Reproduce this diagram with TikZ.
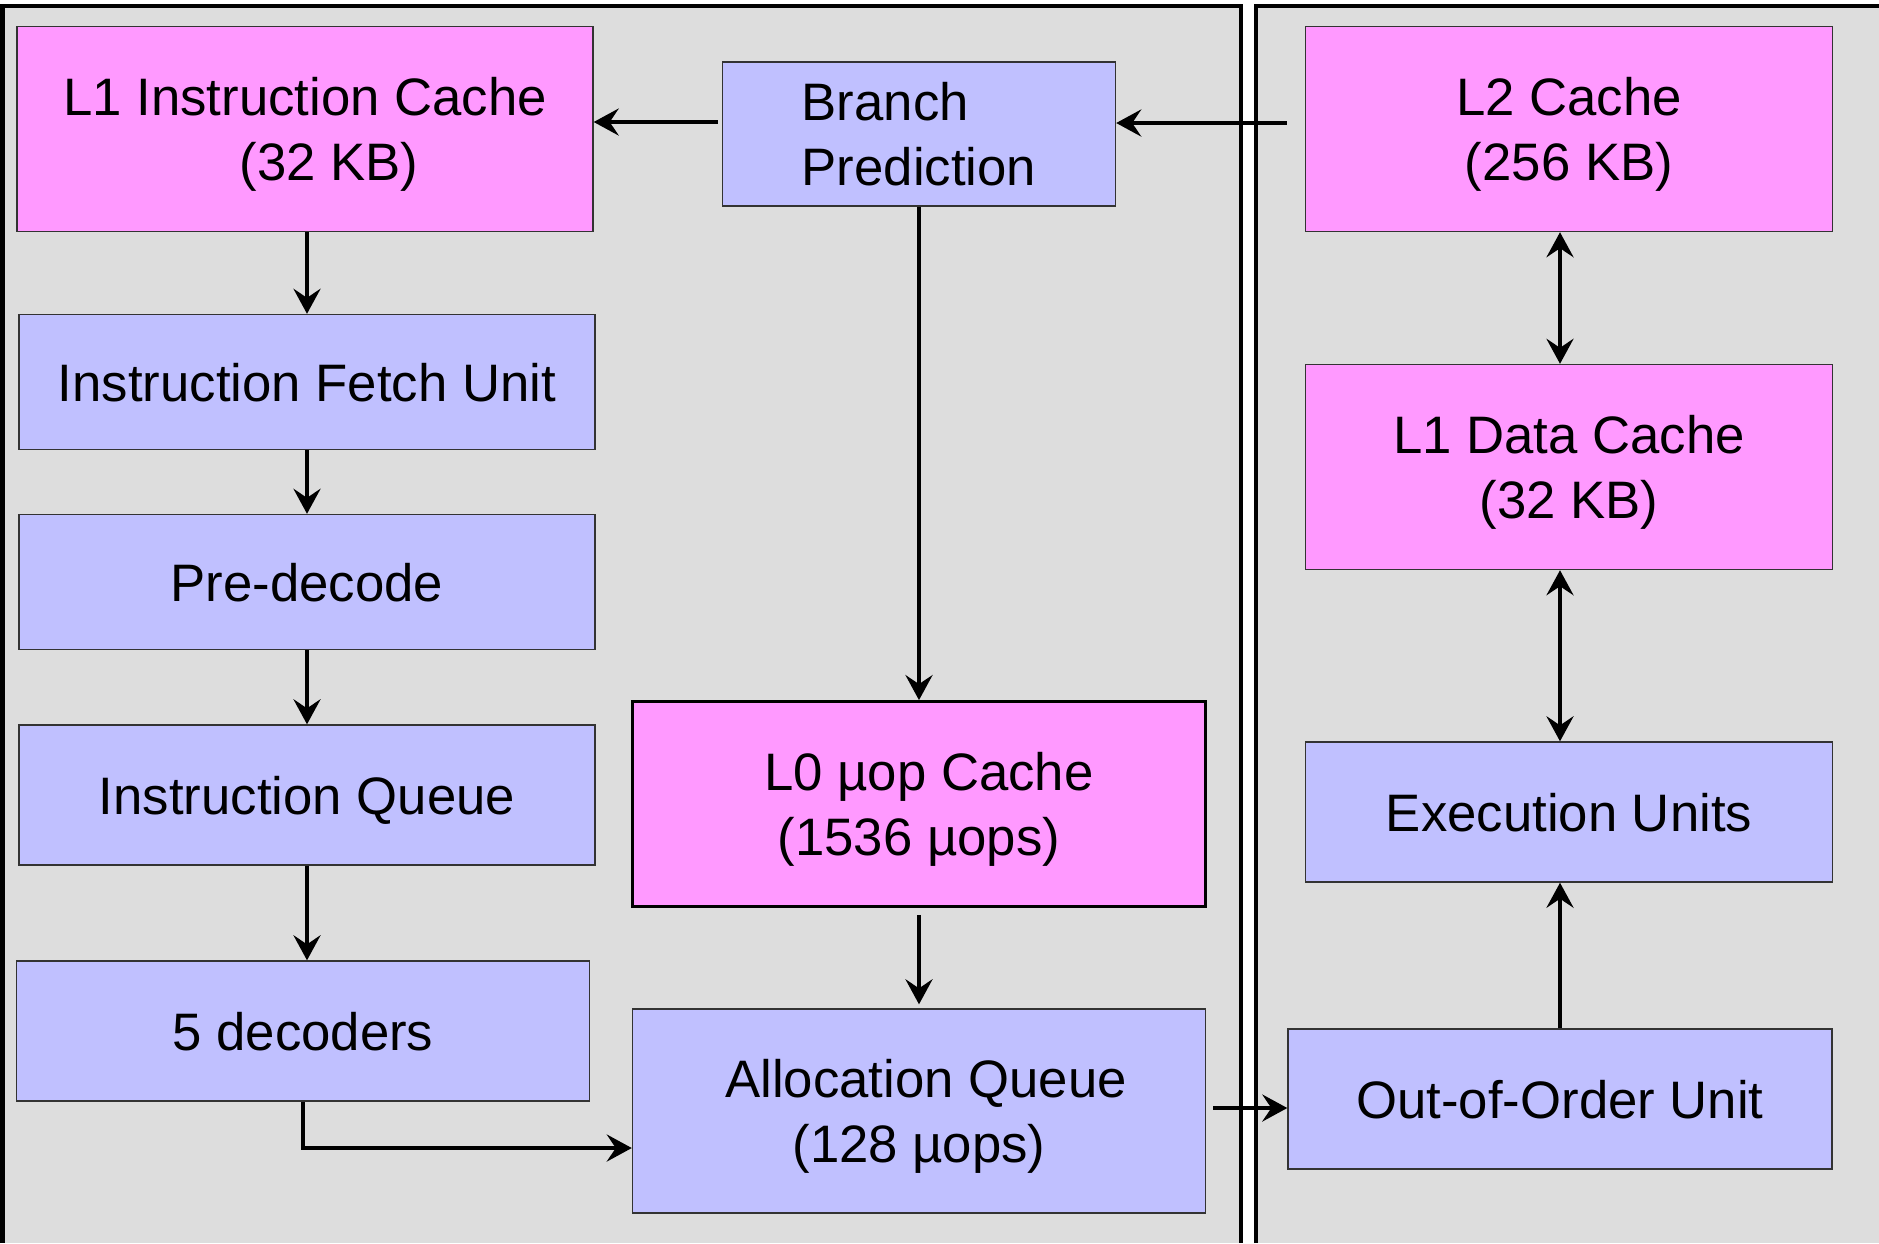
\documentclass[tikz,border=0pt]{standalone}
\usepackage{fontspec}
\setmainfont{Liberation Sans}
\usetikzlibrary{positioning, arrows.meta}

\begin{document}
\begin{tikzpicture}[
    font=\fontsize{15}{18.4}\selectfont,
    box/.style={
    	draw=black!80,
    	line width=0.4pt,
    	inner sep=0pt, align=center, anchor=center,
    	text depth=0pt
    }, pil/.style={
    	-{Stealth[length=2.5mm, width=2.7mm, inset=0.9mm]},
    	line width=1.3pt
    }, dpil/.style={
    	{Stealth[length=2.5mm, width=2.7mm, inset=0.9mm]}-{Stealth[length=2.5mm, width=2.7mm, inset=0.9mm]},
    	line width=1.3pt
    }, panel/.style={
    	line width=1.3pt
    }]
    \definecolor{my-pink}{RGB}{255, 153, 255}
    \definecolor{my-blue}{RGB}{192, 192, 255}
    \definecolor{my-grey}{RGB}{221, 221, 221}

    \useasboundingbox (0,0) rectangle (18.79,-12.43);

    % front end and back end panels
    \fill[my-grey] (0.025,-0.06) rectangle (12.41,-12.43);
    \draw[panel] (0.025,-12.43) |- (12.41,-0.06) -- (12.41,-12.43);
    \fill[my-grey] (12.56,-0.06) rectangle (18.79,-12.43);
    \draw[panel] (12.56,-12.43) |- (18.79,-0.06);

    % front end
    \node[box, fill=my-pink, minimum width=5.76cm, minimum height=2.05cm] (l1icache) at (3.05,-1.29) {L1 Instruction Cache\\\hspace*{0.48cm}(32 KB)};
    \node[box, fill=my-blue, minimum width=5.76cm, minimum height=1.35cm] (fetch) at (3.07,-3.82) {Instruction Fetch Unit};
    \node[box, fill=my-blue, minimum width=5.76cm, minimum height=1.35cm] (predecode) at (3.07,-5.82) {Pre-decode};
    \node[box, fill=my-blue, minimum width=5.76cm, minimum height=1.40cm] (iqueue) at (3.07,-7.95) {Instruction Queue};
    \node[box, fill=my-blue, minimum width=5.73cm, minimum height=1.40cm] (decoders) at (3.03,-10.31) {5 decoders};

    \node[box, fill=my-blue, minimum width=3.93cm, minimum height=1.44cm, align=left] (branch) at (9.19,-1.34) {Branch\\Prediction};
    \node[box, fill=my-pink, draw=black, line width=0.8pt, minimum width=5.73cm, minimum height=2.05cm] (uopcache) at (9.19,-8.04) {\hspace*{0.2cm}L0 µop Cache\\(1536 µops)};
    \node[box, fill=my-blue, minimum width=5.73cm, minimum height=2.04cm] (allocq) at (9.19,-11.11) {\hspace*{0.14cm}Allocation Queue\\(128 µops)};

    % back end
    \node[box, fill=my-pink, minimum width=5.27cm, minimum height=2.05cm] (l2cache) at (15.69,-1.29) {L2 Cache\\(256 KB)};
    \node[box, fill=my-pink, minimum width=5.27cm, minimum height=2.05cm] (l1dcache) at (15.69,-4.67) {L1 Data Cache\\(32 KB)};
    \node[box, fill=my-blue, minimum width=5.27cm, minimum height=1.40cm] (exec) at (15.69,-8.12) {Execution Units};
    \node[box, fill=my-blue, minimum width=5.44cm, minimum height=1.40cm] (ooo) at (15.60,-10.99) {Out-of-Order Unit};

    % decode path
    \draw[pil] (l1icache.south -| fetch) -- (fetch.north);
    \draw[pil] (fetch) -- (predecode);
    \draw[pil] (predecode) -- (iqueue);
    \draw[pil] (iqueue.south) -- (iqueue.south |- decoders.north);
    \coordinate (alloc-in) at ([yshift=-3.7mm]allocq.west);
    \draw[pil] (decoders.south) |- (alloc-in);

    % prediction and uop cache
    \coordinate (bp-out) at ([xshift=-0.4mm, yshift=1.2mm]branch.west);
    \draw[pil] (bp-out) -- (bp-out -| l1icache.east);
    \coordinate (l2-out) at ([xshift=-1.8mm, yshift=0.6mm]l2cache.west);
    \draw[pil] (l2-out) -- (l2-out -| branch.east);
    \draw[pil] (branch) -- (uopcache);
    \draw[pil, shorten <=0.7mm, shorten >=0.4mm] (uopcache) -- (allocq);

    % to the back end
    \coordinate (alloc-out) at ([xshift=0.7mm, yshift=0.3mm]allocq.east);
    \draw[pil] (alloc-out) -- (alloc-out -| ooo.west);
    \draw[pil] (ooo.north) -- (ooo.north |- exec.south);
    \draw[dpil] (exec.north -| ooo) -- (l1dcache.south -| ooo);
    \draw[dpil] (l1dcache.north -| ooo) -- (l2cache.south -| ooo);

\end{tikzpicture}
\end{document}
